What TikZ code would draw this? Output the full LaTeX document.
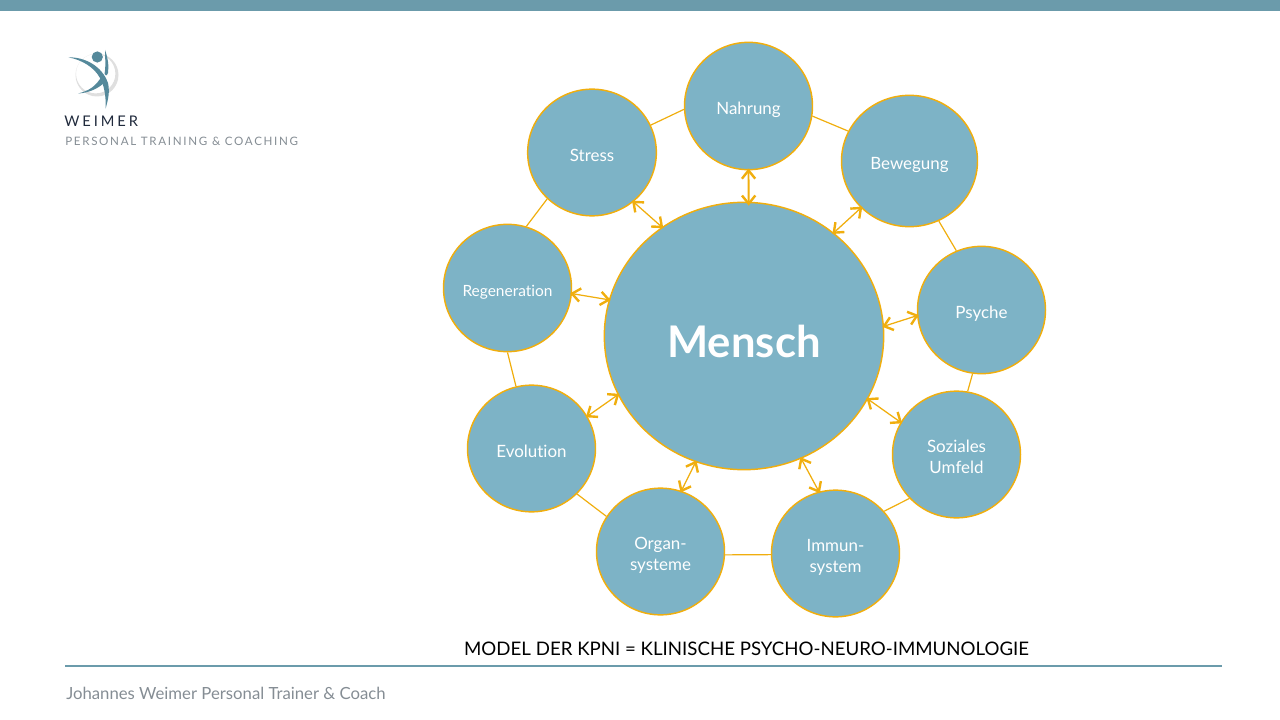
\documentclass[tikz,border=0pt]{standalone}
\usepackage{fontspec}
\usetikzlibrary{shapes.geometric,arrows.meta}
\setmainfont[Ligatures=NoCommon]{Lato}
\newfontfamily\spaced[LetterSpace=14.5,Ligatures=NoCommon]{Lato}
\newfontfamily\spacedb[LetterSpace=20]{Lato}
\definecolor{teal1}{HTML}{7DB3C6}
\definecolor{bar1}{HTML}{6B9BAB}
\definecolor{gold1}{HTML}{F0AE0E}
\definecolor{logo1}{HTML}{55899B}
\definecolor{grey1}{HTML}{858D94}
\newcommand{\dn}[2][3.4pt]{\raisebox{-#1}[\height][\depth]{\begin{tabular}{@{}c@{}}#2\end{tabular}}}
\tikzset{
  x=0.75pt,y=-0.75pt,
  blob/.style={ellipse,draw=gold1,fill=teal1,line width=1.1pt,inner sep=0pt,text=white,align=center,font=\fontsize{12.7}{15.5}\selectfont},
  ring/.style={draw=gold1,line width=0.9pt},
  link/.style={draw=gold1,line width=0.95pt,shorten <=-1.4pt,shorten >=-1.4pt,{Straight Barb[length=6.2pt,width=10pt,line width=1.8pt]}-{Straight Barb[length=6.2pt,width=10pt,line width=1.8pt]}},
  free/.style={inner sep=0pt},
}
\begin{document}
\begin{tikzpicture}
\useasboundingbox (0,0) rectangle (1280,720);
\fill[bar1] (0,0) rectangle (1280,11);
% logo
\fill[gray!25,even odd rule] (97,75) circle (21.5) (95.7,73.7) circle (19.7);
\fill[logo1] (97.3,57) circle (5.6);
\fill[logo1] (68.3,57.3) .. controls (85,57) and (102,66) .. (108,83) .. controls (110,92) and (108,100) .. (105.7,108.5) .. controls (106,95) and (104,85) .. (100,78) .. controls (94,67) and (82,60) .. (68.3,57.3) -- cycle;
\fill[logo1] (78,93.5) .. controls (88,91) and (96,87) .. (102,75.5) .. controls (104,79) and (105,80) .. (105,82) .. controls (98,89) and (88,93) .. (78,93.5) -- cycle;
\fill[logo1] (105,50) .. controls (108,58) and (109,66) .. (108,73) .. controls (107,76) and (105,76) .. (104.5,74) .. controls (106,66) and (105,58) .. (105,50) -- cycle;
\node[free,anchor=west,text={rgb,255:red,32;green,42;blue,60}] (brand) at (64,121) {\spacedb\fontsize{11}{13}\selectfont WEIMER};
\node[free,anchor=west,text=grey1] (tag) at (65,141.5) {\spaced\fontsize{8.7}{10}\selectfont PERSONAL TRAINING \& COACHING};
% circles
\node[blob,minimum width=209.5pt,minimum height=200.5pt] (mensch) at (744,336) {\dn[6pt]{\fontsize{32.7}{38}\selectfont\bfseries Mensch}};
\node[blob,minimum width=96pt,minimum height=95.5pt] (nahrung) at (748.5,106) {\dn{Nahrung}};
\node[blob,minimum width=102pt,minimum height=98.5pt] (bewegung) at (909.5,161) {\dn{Bewegung}};
\node[blob,minimum width=96pt,minimum height=95.5pt] (psyche) at (981.5,310) {\dn{Psyche}};
\node[blob,minimum width=96pt,minimum height=95pt] (soziales) at (956.5,454.5) {\dn{Soziales\\Umfeld}};
\node[blob,minimum width=96pt,minimum height=95pt] (immun) at (835.5,553.5) {\dn{Immun-\\system}};
\node[blob,minimum width=96pt,minimum height=95pt] (organ) at (660.5,551.5) {\dn{Organ-\\systeme}};
\node[blob,minimum width=96pt,minimum height=95pt] (evolution) at (531.5,448.5) {\dn{Evolution}};
\node[blob,minimum width=96pt,minimum height=95.5pt,font=\fontsize{11.6}{13}\selectfont] (regen) at (507.5,288) {\dn[4pt]{Regeneration}};
\node[blob,minimum width=96.5pt,minimum height=95pt] (stress) at (592,152.5) {\dn{Stress}};
% ring
\draw[ring] (stress.25.8) -- (nahrung.183.6);
\draw[ring] (nahrung.-9) -- (bewegung.154.4);
\draw[ring] (bewegung.-64.2) -- (psyche.113);
\draw[ring] (psyche.-98.6) -- (soziales.80.5);
\draw[ring] (soziales.-137.6) -- (immun.41.2);
\draw[ring] (immun.181) -- (organ.-3);
\draw[ring] (organ.147) -- (evolution.-45);
\draw[ring] (evolution.104.8) -- (regen.-90);
\draw[ring] (regen.73.4) -- (stress.-134.7);
% arrows
\draw[link] (stress.-50.4) -- (mensch.127.5);
\draw[link,line width=1.4pt,shorten >=-3pt] (nahrung.-90) -- (mensch.88.8);
\draw[link] (bewegung.-136.5) -- (mensch.49);
\draw[link] (psyche.185.8) -- (mensch.4);
\draw[link] (soziales.150) -- (mensch.-27);
\draw[link] (immun.105.4) -- (mensch.-65.4);
\draw[link] (organ.71.3) -- (mensch.-111);
\draw[link] (evolution.30.4) -- (mensch.-155.5);
\draw[link] (regen.-5.6) -- (mensch.165.4);
% caption and footer
\node[free,text=black] (caption) at (746.5,649) {\fontsize{14}{16}\selectfont MODEL DER KPNI = KLINISCHE PSYCHO-NEURO-IMMUNOLOGIE};
\draw[bar1,line width=1pt] (65,666) -- (1222,666);
\node[free,anchor=west,text=grey1] (foot) at (66,693.5) {\fontsize{12.55}{15}\selectfont Johannes Weimer Personal Trainer \& Coach};
\end{tikzpicture}
\end{document}
